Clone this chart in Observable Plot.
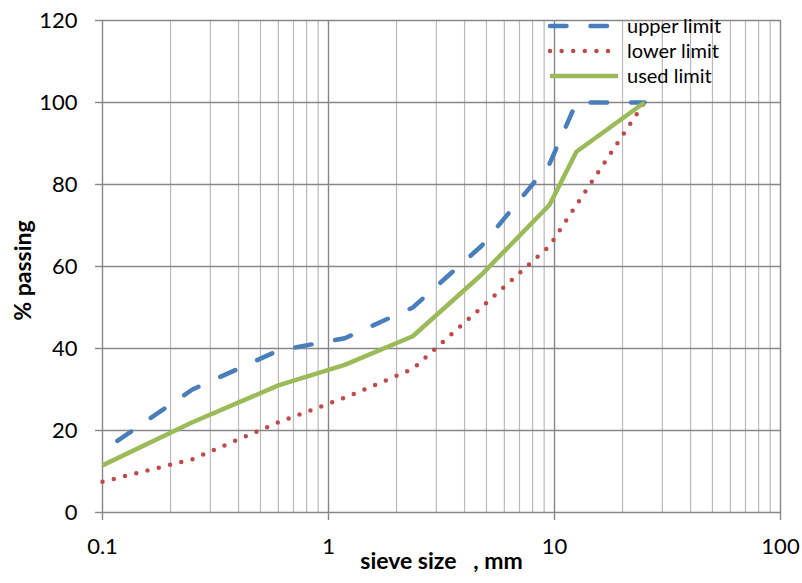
<!DOCTYPE html>
<html>
<head>
<meta charset="utf-8">
<script src="https://cdn.jsdelivr.net/npm/d3@7"></script>
<script src="https://cdn.jsdelivr.net/npm/@observablehq/plot@0.6"></script>
<style>
  body { margin: 0; background: #fff; }
  #wrap { position: relative; width: 802px; height: 583px; }
  #wrap svg text { white-space: pre; }
  #legend { position: absolute; left: 0; top: 0; pointer-events: none; }
</style>
</head>
<body>
<div id="wrap"></div>
<script>
// Sieve sizes (mm) and cumulative % passing for each grading envelope
const sieveSizes = [0.1, 0.25, 0.6, 1.18, 2.36, 4.75, 9.5, 12.5, 25];
const upperLimit = [15, 30, 39.5, 42.5, 50, 65, 85, 100, 100];
const lowerLimit = [7.5, 13, 22, 28, 35, 50, 65, 75, 100];
const usedLimit  = [11.5, 22, 31, 36, 43, 58, 75, 88, 100];

const seriesNames = ["upper limit", "lower limit", "used limit"];
const xMajorTicks = [0.1, 1, 10, 100];
const xTickLabels = ["0.1", "1", "10", "100"];
const yTicks = [0, 20, 40, 60, 80, 100, 120];
const xTitle = "sieve size   , mm";
const yTitle = "% passing";

// minor log gridlines: 2..9 within each decade
const xMinorTicks = [0.1, 1, 10].flatMap(d => [2, 3, 4, 5, 6, 7, 8, 9].map(k => +(d * k).toPrecision(3)));

const colors = { upper: "#4A7EBB", lower: "#BE4B48", used: "#9BBB59" };
const styles = [
  { stroke: colors.upper, strokeWidth: 4.5, strokeDasharray: "16.5,24", strokeLinecap: "round" },
  { stroke: colors.lower, strokeWidth: 4.5, strokeDasharray: "0,11.6", strokeLinecap: "round" },
  { stroke: colors.used, strokeWidth: 4.5, strokeLinecap: "butt" }
];

const toRows = values => sieveSizes.map((s, i) => ({ size: s, pct: values[i] }));

const chart = Plot.plot({
  width: 802,
  height: 583,
  marginLeft: 102,
  marginRight: 22,
  marginTop: 20,
  marginBottom: 71,
  style: { fontFamily: "Lato, sans-serif", fontSize: "22px", color: "#000", background: "#fff" },
  x: { type: "log", domain: [0.1, 100] },
  y: { domain: [0, 120] },
  marks: [
    Plot.gridX(xMinorTicks, { stroke: "#b9b9b9", strokeOpacity: 1, strokeWidth: 1.2 }),
    Plot.gridX(xMajorTicks, { stroke: "#878787", strokeOpacity: 1, strokeWidth: 1.4 }),
    Plot.gridY(yTicks, { stroke: "#878787", strokeOpacity: 1, strokeWidth: 1.4 }),
    Plot.axisX(xMajorTicks, {
      tickSize: 8, tickPadding: 18, stroke: "#878787", strokeWidth: 1.4,
      tickFormat: d => xTickLabels[xMajorTicks.indexOf(d)], fontSize: 22, label: null
    }),
    Plot.axisY(yTicks, {
      tickSize: 7, tickPadding: 18, stroke: "#878787", strokeWidth: 1.4,
      fontSize: 22, label: null
    }),
    Plot.line(toRows(upperLimit), { x: "size", y: "pct", ...styles[0], strokeDashoffset: 22.5, strokeLinejoin: "round" }),
    Plot.line(toRows(lowerLimit), { x: "size", y: "pct", ...styles[1] }),
    Plot.line(toRows(usedLimit), { x: "size", y: "pct", ...styles[2], strokeLinejoin: "miter" }),
    Plot.text([xTitle], {
      text: d => d, frameAnchor: "bottom", dy: 49,
      fontWeight: "bold", fontSize: 23, lineAnchor: "middle"
    }),
    Plot.text([yTitle], {
      text: d => d, frameAnchor: "left", dx: -79, dy: 4, rotate: -90,
      fontWeight: "bold", fontSize: 23, lineAnchor: "middle", textAnchor: "middle"
    })
  ]
});

const wrap = document.getElementById("wrap");
wrap.appendChild(chart);

// Legend drawn over the top-right of the plot area
const legend = d3.select(wrap).append("svg")
  .attr("id", "legend")
  .attr("width", 802)
  .attr("height", 583);

const legendX0 = 550, legendX1 = 618, legendTextX = 627, legendY0 = 26, legendStep = 25;
seriesNames.forEach((name, i) => {
  const y = legendY0 + i * legendStep;
  const s = styles[i];
  legend.append("line")
    .attr("x1", legendX0).attr("x2", legendX1)
    .attr("y1", y).attr("y2", y)
    .attr("stroke", s.stroke)
    .attr("stroke-width", s.strokeWidth)
    .attr("stroke-dasharray", s.strokeDasharray || null)
    .attr("stroke-linecap", i === 2 ? "butt" : "round");
  legend.append("text")
    .attr("x", legendTextX).attr("y", y)
    .attr("dy", "0.35em")
    .attr("font-family", "Lato, sans-serif")
    .attr("font-size", 20)
    .attr("fill", "#000")
    .text(name);
});
</script>
</body>
</html>
